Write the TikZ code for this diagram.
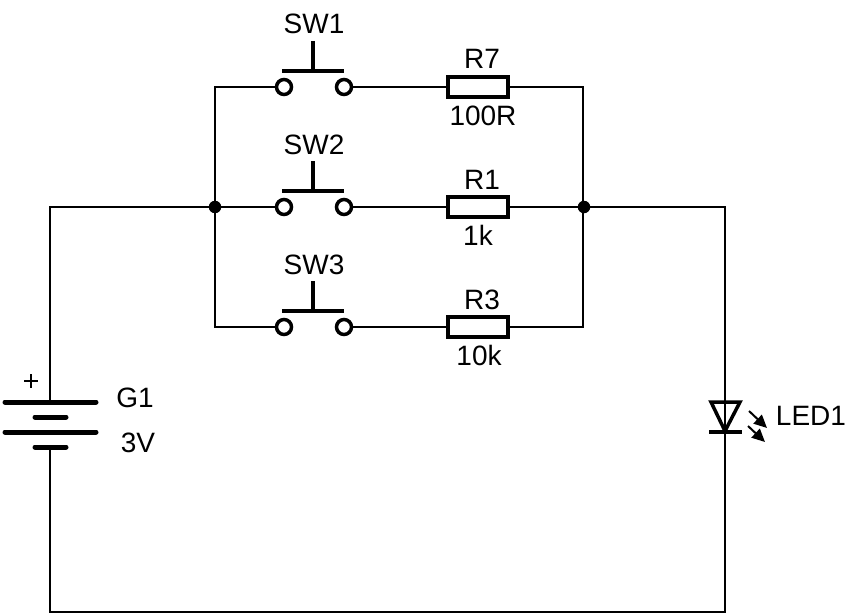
\documentclass[tikz,border=0pt]{standalone}
\usepackage{fontspec}
\setmainfont{Liberation Sans}
\usetikzlibrary{arrows.meta}
\tikzset{
  wire/.style={line width=2pt,black},
  terminal/.style={circle,draw=black,line width=3.5pt,fill=white,minimum size=15pt,inner sep=0pt,outer sep=0pt},
  resbox/.style={rectangle,draw=black,line width=3.5pt,fill=white,minimum width=60pt,minimum height=20pt,inner sep=0pt,outer sep=0pt},
  junction/.style={circle,fill=black,minimum size=12.5pt,inner sep=0pt,outer sep=0pt},
  corner/.style={inner sep=0pt,outer sep=0pt,minimum size=0pt},
  lab/.style={font=\fontsize{28}{28}\selectfont,anchor=base,inner sep=0pt,text=black},
  plate/.style={line width=5pt,line cap=round,black},
  ledline/.style={line width=3.5pt,black},
  actuator/.style={line width=3.5pt,black},
  ray/.style={line width=2pt,black,-{Triangle[length=13pt,width=12pt]}}
}
\begin{document}
\begin{tikzpicture}[x=1pt,y=-1pt]
\useasboundingbox (0,0) rectangle (861,615);
% corners and junctions
\node[junction] (jl) at (215,207) {};
\node[junction] (jr) at (584,207) {};
\node[corner] (ctl) at (215,87) {};
\node[corner] (ctr) at (583,87) {};
\node[corner] (cbl) at (215,327) {};
\node[corner] (cbr) at (583,327) {};
\node[corner] (w1) at (50,207) {};
\node[corner] (w2) at (725,207) {};
\node[corner] (w3) at (725,612) {};
\node[corner] (w4) at (50,612) {};
\node[corner] (batp) at (50,402) {};
\node[corner] (batn) at (50,447) {};
\node[corner] (leda) at (725,450) {};
% wires
\draw[wire,line cap=rect] (ctl.center) -- (cbl.center);
\draw[wire,line cap=rect] (ctr.center) -- (cbr.center);
\draw[wire] (batp.center) -- (w1.center) -- (jl.center);
\draw[wire] (jr.center) -- (w2.center) -- (leda.center);
\draw[wire] (leda.center) -- (w3.center) -- (w4.center) -- (batn.center);
% branches
\foreach \n/\y in {a/87,b/207,c/327}{
  \node[terminal] (\n s) at (284,\y) {};
  \node[terminal] (\n e) at (344,\y) {};
  \node[resbox] (\n r) at (478,\y) {};
}
\draw[wire] (ctl.center) -- (as);
\draw[wire] (ae) -- (ar);
\draw[wire] (ar) -- (ctr.center);
\draw[wire] (jl) -- (bs);
\draw[wire] (be) -- (br);
\draw[wire] (br) -- (jr);
\draw[wire] (cbl.center) -- (cs);
\draw[wire] (ce) -- (cr);
\draw[wire] (cr) -- (cbr.center);
% switch actuators
\foreach \y in {87,207,327}{
  \draw[actuator] (282,\y-16) -- (344,\y-16);
  \draw[actuator] (313,\y-46) -- (313,\y-16);
}
% battery
\draw[plate] (5,402) -- (96,402);
\draw[plate] (35,417) -- (66,417);
\draw[plate] (5,432) -- (96,432);
\draw[plate] (35,447) -- (66,447);
\draw[line width=2pt,black] (24,381) -- (38,381);
\draw[line width=2pt,black] (31,374) -- (31,388);
% LED
\draw[ledline,line join=miter] (711,402) -- (740,402) -- (725,431) -- cycle;
\draw[ledline] (709,432) -- (742,432);
\draw[ray] (749,411) -- (767,428);
\draw[ray] (748,426) -- (765,442);
% labels
\node[lab] (l1) at (314,34) {SW1};
\node[lab] (l2) at (314,154) {SW2};
\node[lab] (l3) at (314,274) {SW3};
\node[lab] (l4) at (482,69) {R7};
\node[lab] (l5) at (483,125) {100R};
\node[lab] (l6) at (482,189) {R1};
\node[lab] (l7) at (478,245) {1k};
\node[lab] (l8) at (482,309) {R3};
\node[lab] (l9) at (479,365) {10k};
\node[lab] (l10) at (135,407) {G1};
\node[lab] (l11) at (138,452) {3V};
\node[lab] (l12) at (811,425) {LED1};
\end{tikzpicture}
\end{document}
